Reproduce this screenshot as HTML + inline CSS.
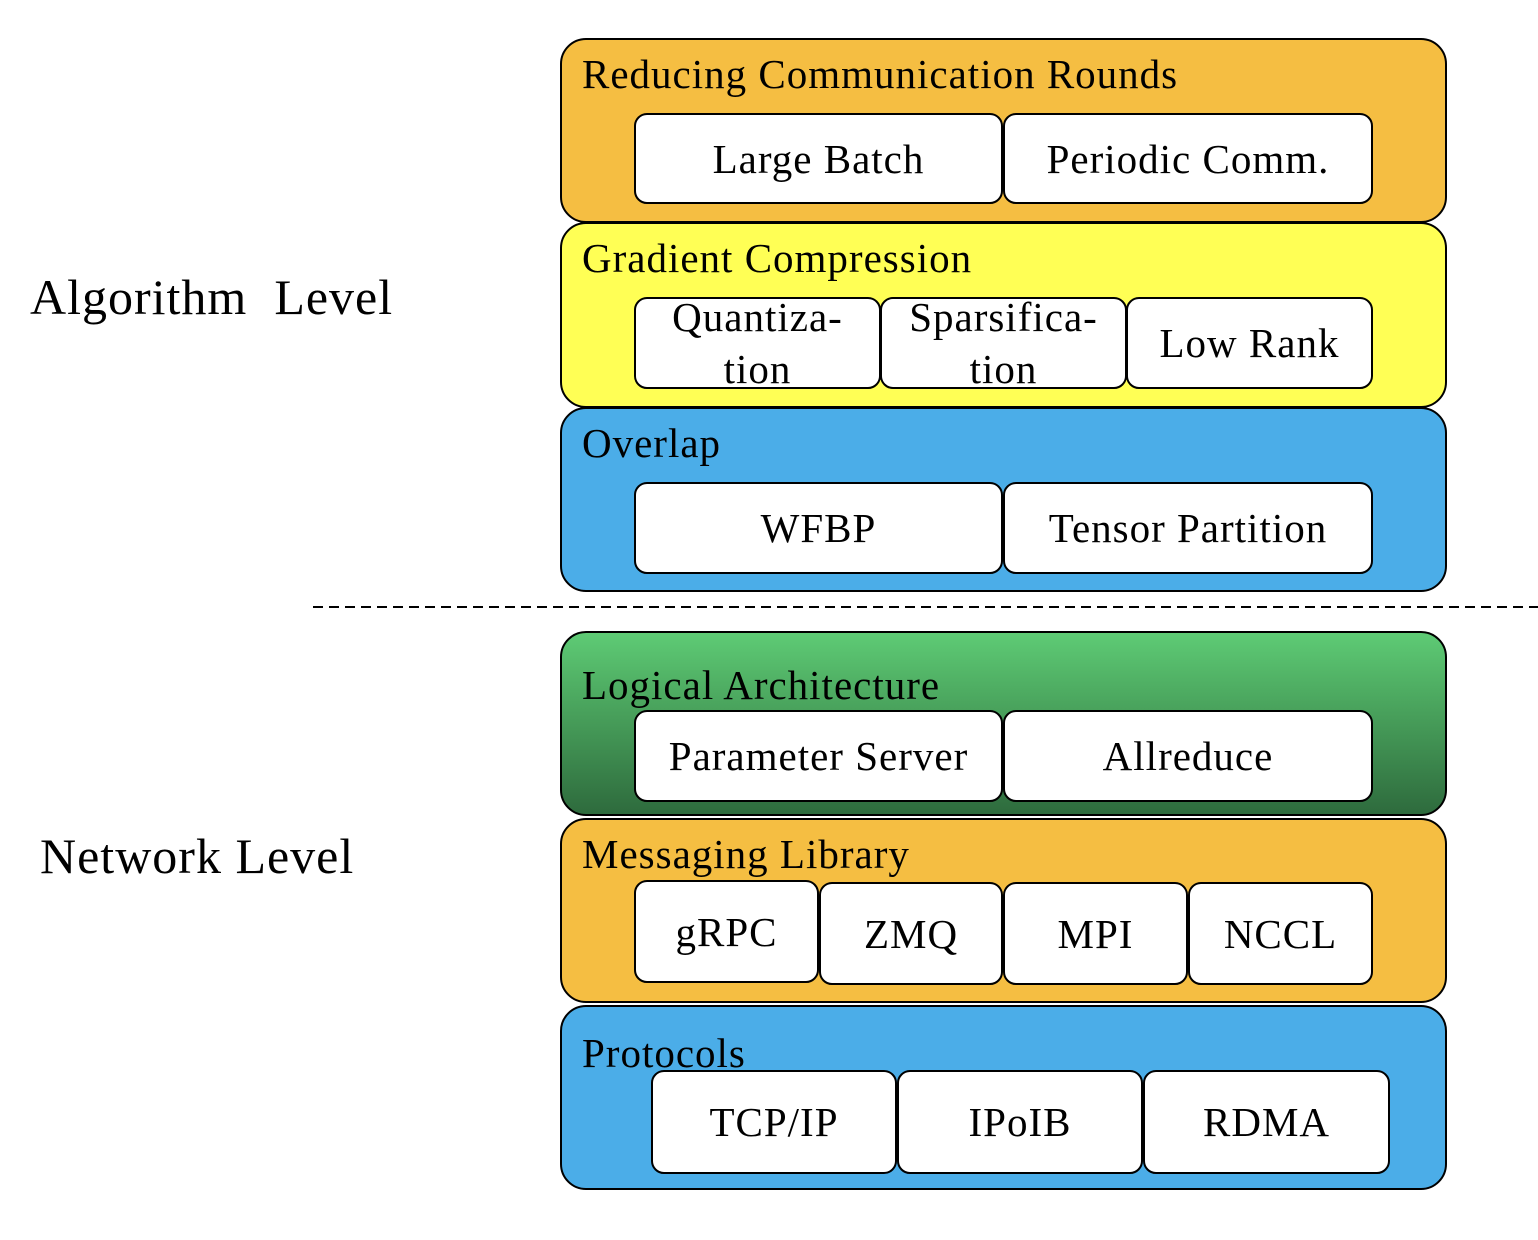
<!DOCTYPE html>
<html><head><meta charset="utf-8"><style>
body{margin:0;width:1538px;height:1240px;background:#fff;position:relative;overflow:hidden;font-family:"Liberation Serif",serif;color:#000}
.o{position:absolute;left:560px;width:887px;border:2px solid #000;border-radius:26px;box-sizing:border-box}
.t{position:absolute;left:20px;top:10px;font-size:41px;letter-spacing:1px;white-space:nowrap}
.i{position:absolute;background:#fff;border:2px solid #000;border-radius:13px;box-sizing:border-box;display:flex;align-items:center;justify-content:center;text-align:center;font-size:41px;letter-spacing:1px;line-height:52px}
.l{position:absolute;font-size:50px;letter-spacing:1px;white-space:pre}
</style></head><body>
<div class="l" style="left:30px;top:268px">Algorithm  Level</div>
<div class="l" style="left:40px;top:827px">Network Level</div>
<svg style="position:absolute;left:0;top:0" width="1538" height="1240"><line x1="313" y1="607" x2="1538" y2="607" stroke="#000" stroke-width="2" stroke-dasharray="10,6"/></svg>

<div class="o" style="top:38px;height:185px;background:#F5BE42"><div class="t">Reducing Communication Rounds</div></div>
<div class="o" style="top:222px;height:186px;background:#FFFF55"><div class="t">Gradient Compression</div></div>
<div class="o" style="top:407px;height:185px;background:#4BADE8"><div class="t">Overlap</div></div>
<div class="o" style="top:631px;height:185px;background:linear-gradient(#5ECB75,#4FAE63 30%,#2E6B3D)"><div class="t" style="top:28px">Logical Architecture</div></div>
<div class="o" style="top:818px;height:185px;background:#F5BE42"><div class="t">Messaging Library</div></div>
<div class="o" style="top:1005px;height:185px;background:#4BADE8"><div class="t" style="top:22px">Protocols</div></div>

<div class="i" style="left:634px;top:113px;width:369px;height:91px">Large Batch</div>
<div class="i" style="left:1003px;top:113px;width:370px;height:91px">Periodic Comm.</div>

<div class="i" style="left:634px;top:297px;width:247px;height:92px">Quantiza-<br>tion</div>
<div class="i" style="left:880px;top:297px;width:247px;height:92px">Sparsifica-<br>tion</div>
<div class="i" style="left:1126px;top:297px;width:247px;height:92px">Low Rank</div>

<div class="i" style="left:634px;top:482px;width:369px;height:92px">WFBP</div>
<div class="i" style="left:1003px;top:482px;width:370px;height:92px">Tensor Partition</div>

<div class="i" style="left:634px;top:710px;width:369px;height:92px">Parameter Server</div>
<div class="i" style="left:1003px;top:710px;width:370px;height:92px">Allreduce</div>

<div class="i" style="left:634px;top:880px;width:185px;height:103px">gRPC</div>
<div class="i" style="left:819px;top:882px;width:184px;height:103px">ZMQ</div>
<div class="i" style="left:1003px;top:882px;width:185px;height:103px">MPI</div>
<div class="i" style="left:1188px;top:882px;width:185px;height:103px">NCCL</div>

<div class="i" style="left:651px;top:1070px;width:246px;height:104px">TCP/IP</div>
<div class="i" style="left:897px;top:1070px;width:246px;height:104px">IPoIB</div>
<div class="i" style="left:1143px;top:1070px;width:247px;height:104px">RDMA</div>
</body></html>
